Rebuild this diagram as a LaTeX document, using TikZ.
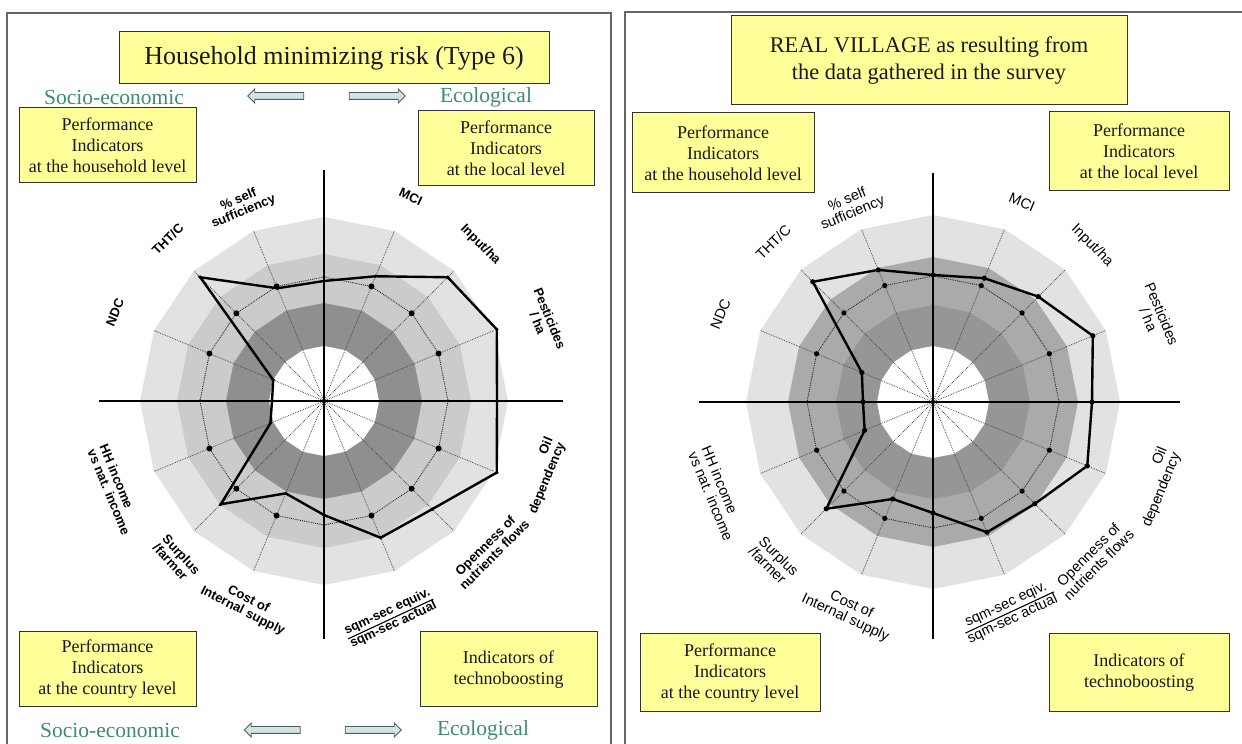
\documentclass[tikz,border=0pt]{standalone}
\usepackage{fontspec}
\setmainfont{Liberation Serif}
\newfontfamily\axisfont{Liberation Sans}
\usetikzlibrary{shapes.arrows}
\setlength{\arrayrulewidth}{1.1pt}

\definecolor{boxyellow}{RGB}{255,255,153}
\definecolor{sidegreen}{RGB}{62,140,106}
\definecolor{arrowfill}{RGB}{206,230,228}
\definecolor{ringout}{RGB}{226,226,226}
\definecolor{ringmidL}{RGB}{203,203,203}
\definecolor{ringinL}{RGB}{143,143,143}
\definecolor{ringmidR}{RGB}{170,170,170}
\definecolor{ringinR}{RGB}{150,150,150}

\tikzset{
  panelframe/.style={draw=black!60, line width=1.4pt},
  indbox/.style={draw=black!80, line width=1pt, fill=boxyellow, align=center,
    text=black!90, inner sep=0pt, font=\fontsize{18}{21}\selectfont},
  titlebox/.style={indbox, font=\fontsize{26}{30}\selectfont},
  sidetext/.style={text=sidegreen, inner sep=0pt, font=\fontsize{21.5}{25}\selectfont},
  sidearrow/.style={single arrow, draw=black!65, fill=arrowfill, line width=0.8pt,
    minimum height=56pt, inner xsep=0pt, inner ysep=3pt,
    single arrow head extend=3.5pt, single arrow tip angle=90},
  spoke/.style={densely dotted, line width=0.8pt, black!70},
  refring/.style={densely dotted, line width=0.9pt, black!85},
  dataline/.style={line width=2.4pt, black, line join=miter},
  axisline/.style={line width=2.8pt, black},
  axlabel/.style={font=\axisfont\bfseries\fontsize{13}{13}\selectfont, align=center, inner sep=1pt},
  axlabelR/.style={font=\axisfont\fontsize{14.5}{14.5}\selectfont, align=center, inner sep=1pt},
}

\begin{document}
\begin{tikzpicture}[x=1pt, y=1pt]
  \useasboundingbox (0,0) rectangle (1242,744);

  % the two panels
  \draw[panelframe] (7,0) -- (7,731) -- (611,731) -- (611,0);
  \draw[panelframe] (625,0) -- (625,732) -- (1242,732);

  \coordinate (cL) at (324,343);
  \coordinate (cR) at (933,342);

  % ---------------- left panel ----------------
  \node[titlebox, minimum width=430pt, minimum height=52pt]
    (titleL) at (334,686) {Household minimizing risk (Type 6)};
  \node[sidetext] (socioTopL) at (114,647) {Socio-economic};
  \node[sidetext] (ecoTopL) at (486,647) {Ecological};
  \node[sidearrow, shape border rotate=180] (arrWTopL) at (277.5,648) {};
  \node[sidearrow] (arrETopL) at (375.5,648) {};

  \node[indbox, minimum width=177pt, minimum height=75pt]
    (houseL) at (107.5,598.5) {Performance\\Indicators\\at the household level};
  \node[indbox, minimum width=176pt, minimum height=75pt]
    (localL) at (506,595.5) {Performance\\Indicators\\at the local level};
  \node[indbox, minimum width=177pt, minimum height=75pt]
    (countryL) at (107.5,74.5) {Performance\\Indicators\\at the country level};
  \node[indbox, minimum width=177pt, minimum height=75pt]
    (technoL) at (508.5,74.5) {Indicators of\\technoboosting};

  \node[sidetext] (socioBotL) at (110,14) {Socio-economic};
  \node[sidetext] (ecoBotL) at (483,14) {Ecological};
  \node[sidearrow, shape border rotate=180] (arrWBotL) at (274,14) {};
  \node[sidearrow] (arrEBotL) at (371.5,14) {};

  \begin{scope}[shift={(cL)}]
    % bands
    \foreach \r/\c in {184/ringout,147/ringmidL,98/ringinL,55/white}
      \fill[\c] (90:\r) \foreach \k in {1,...,15}{ -- ({90-22.5*\k}:\r) } -- cycle;
    % spokes and reference ring
    \foreach \k in {0,...,15}
      \draw[spoke] (0,0) -- ({90-22.5*\k}:184);
    \draw[refring] (90:124) \foreach \k in {1,...,15}{ -- ({90-22.5*\k}:124) } -- cycle;
    \foreach \k in {1,2,3,5,6,7,9,10,11,13,14,15}
      \fill ({90-22.5*\k}:124) circle (3);
    \foreach \k in {0,4,8,12}
      \fill ({90-22.5*\k}:124) circle (1.5);
    % household values
    \draw[dataline] (90:120)
      \foreach \r [count=\k] in {135,175,187,173,187,153,148,114,100,146,58,52,55,175,122}
        { -- ({90-22.5*\k}:\r) } -- cycle;
    \foreach \r [count=\k from 0] in {120,135,175,187,173,187,153,148,114,100,146,58,52,55,175,122}
      \fill ({90-22.5*\k}:\r) circle (1.8);

    % axis labels
    \node[axlabel, rotate=22.5] (selfL) at (113:212) {\% self\\sufficiency};
    \node[axlabel, rotate=45] (thtcL) at (134:225) {THT/C};
    \node[axlabel, rotate=67.5] (ndcL) at (157:227) {NDC};
    \node[axlabel, rotate=-25] (mciL) at (67:222) {MCI};
    \node[axlabel, rotate=-45] (inputL) at (45:221) {Input/ha};
    \node[axlabel, rotate=-67.5] (pestL) at (20:234) {Pesticides\\/ ha};
    \node[axlabel, rotate=67.5, align=right] (oilL) at (-19:230) {Oil\\dependency};
    \node[axlabel, rotate=45] (openL) at (-42:223) {Openness of\\nutrients flows};
    \node[axlabel, rotate=25] (sqmL) at (-73:228)
      {\begin{tabular}{@{}c@{}}sqm-sec equiv.\\\hline sqm-sec actual\end{tabular}};
    \node[axlabel, rotate=-27] (costL) at (-111:219) {Cost of\\Internal supply};
    \node[axlabel, rotate=-47, align=left] (surplusL) at (-133:216) {Surplus\\/farmer};
    \node[axlabel, rotate=-67.5, align=left] (hhL) at (-157:227) {HH income\\vs nat. income};
  \end{scope}

  \coordinate (axNL) at (324,574);
  \coordinate (axSL) at (324,105);
  \coordinate (axWL) at (99,343);
  \coordinate (axEL) at (563,343);
  \draw[axisline] (axNL) -- (axSL);
  \draw[axisline] (axWL) -- (axEL);

  % ---------------- right panel ----------------
  \node[indbox, font=\fontsize{22.4}{27}\selectfont, minimum width=396pt, minimum height=89pt]
    (titleR) at (929,683.5) {REAL VILLAGE as resulting from\\the data gathered in the survey};

  \node[indbox, minimum width=182pt, minimum height=80pt]
    (houseR) at (723,591) {Performance\\Indicators\\at the household level};
  \node[indbox, minimum width=180pt, minimum height=79pt]
    (localR) at (1139,592.5) {Performance\\Indicators\\at the local level};
  \node[indbox, minimum width=180pt, minimum height=78pt]
    (countryR) at (730,71) {Performance\\Indicators\\at the country level};
  \node[indbox, minimum width=180pt, minimum height=78pt]
    (technoR) at (1139,71) {Indicators of\\technoboosting};

  \begin{scope}[shift={(cR)}]
    % bands
    \foreach \r/\c in {187/ringout,145/ringmidR,97/ringinR,56/white}
      \fill[\c] (90:\r) \foreach \k in {1,...,15}{ -- ({90-22.5*\k}:\r) } -- cycle;
    % spokes and reference ring
    \foreach \k in {0,...,15}
      \draw[spoke] (0,0) -- ({90-22.5*\k}:187);
    \draw[refring] (90:126) \foreach \k in {1,...,15}{ -- ({90-22.5*\k}:126) } -- cycle;
    \foreach \k in {1,2,3,5,6,7,9,10,11,13,14,15}
      \fill ({90-22.5*\k}:126) circle (2.6);
    \foreach \k in {0,4,8,12}
      \fill ({90-22.5*\k}:126) circle (1.5);
    % village values
    \draw[dataline] (90:127)
      \foreach \r [count=\k] in {134,149,173,159,167,144,141,111,105,151,74,70,77,170,143}
        { -- ({90-22.5*\k}:\r) } -- cycle;
    \foreach \r [count=\k from 0] in {127,134,149,173,159,167,144,141,111,105,151,74,70,77,170,143}
      \fill ({90-22.5*\k}:\r) circle (2.6);

    % axis labels
    \node[axlabelR, rotate=22.5] (selfR) at (113:212) {\% self\\sufficiency};
    \node[axlabelR, rotate=45] (thtcR) at (135:226) {THT/C};
    \node[axlabelR, rotate=67.5] (ndcR) at (157.5:230) {NDC};
    \node[axlabelR, rotate=-22.5] (mciR) at (66:219) {MCI};
    \node[axlabelR, rotate=-45] (inputR) at (44.5:223) {Input/ha};
    \node[axlabelR, rotate=-67.5] (pestR) at (21:238) {Pesticides\\/ ha};
    \node[axlabelR, rotate=67.5, align=right] (oilR) at (-21:238) {Oil\\dependency};
    \node[axlabelR, rotate=45] (openR) at (-44.5:225) {Openness of\\nutrients flows};
    \node[axlabelR, rotate=25] (sqmR) at (-70:224)
      {\begin{tabular}{@{}c@{}}sqm-sec eqiv.\\\hline sqm-sec actual\end{tabular}};
    \node[axlabelR, rotate=-25] (costR) at (-112:226) {Cost of\\Internal supply};
    \node[axlabelR, rotate=-45, align=left] (surplusR) at (-135:225) {Surplus\\/farmer};
    \node[axlabelR, rotate=-67.5, align=left] (hhR) at (-157:234) {HH income\\vs nat. income};
  \end{scope}

  \coordinate (axNR) at (933,571);
  \coordinate (axSR) at (933,105);
  \coordinate (axWR) at (699,342);
  \coordinate (axER) at (1180,342);
  \draw[axisline] (axNR) -- (axSR);
  \draw[axisline] (axWR) -- (axER);
\end{tikzpicture}
\end{document}
